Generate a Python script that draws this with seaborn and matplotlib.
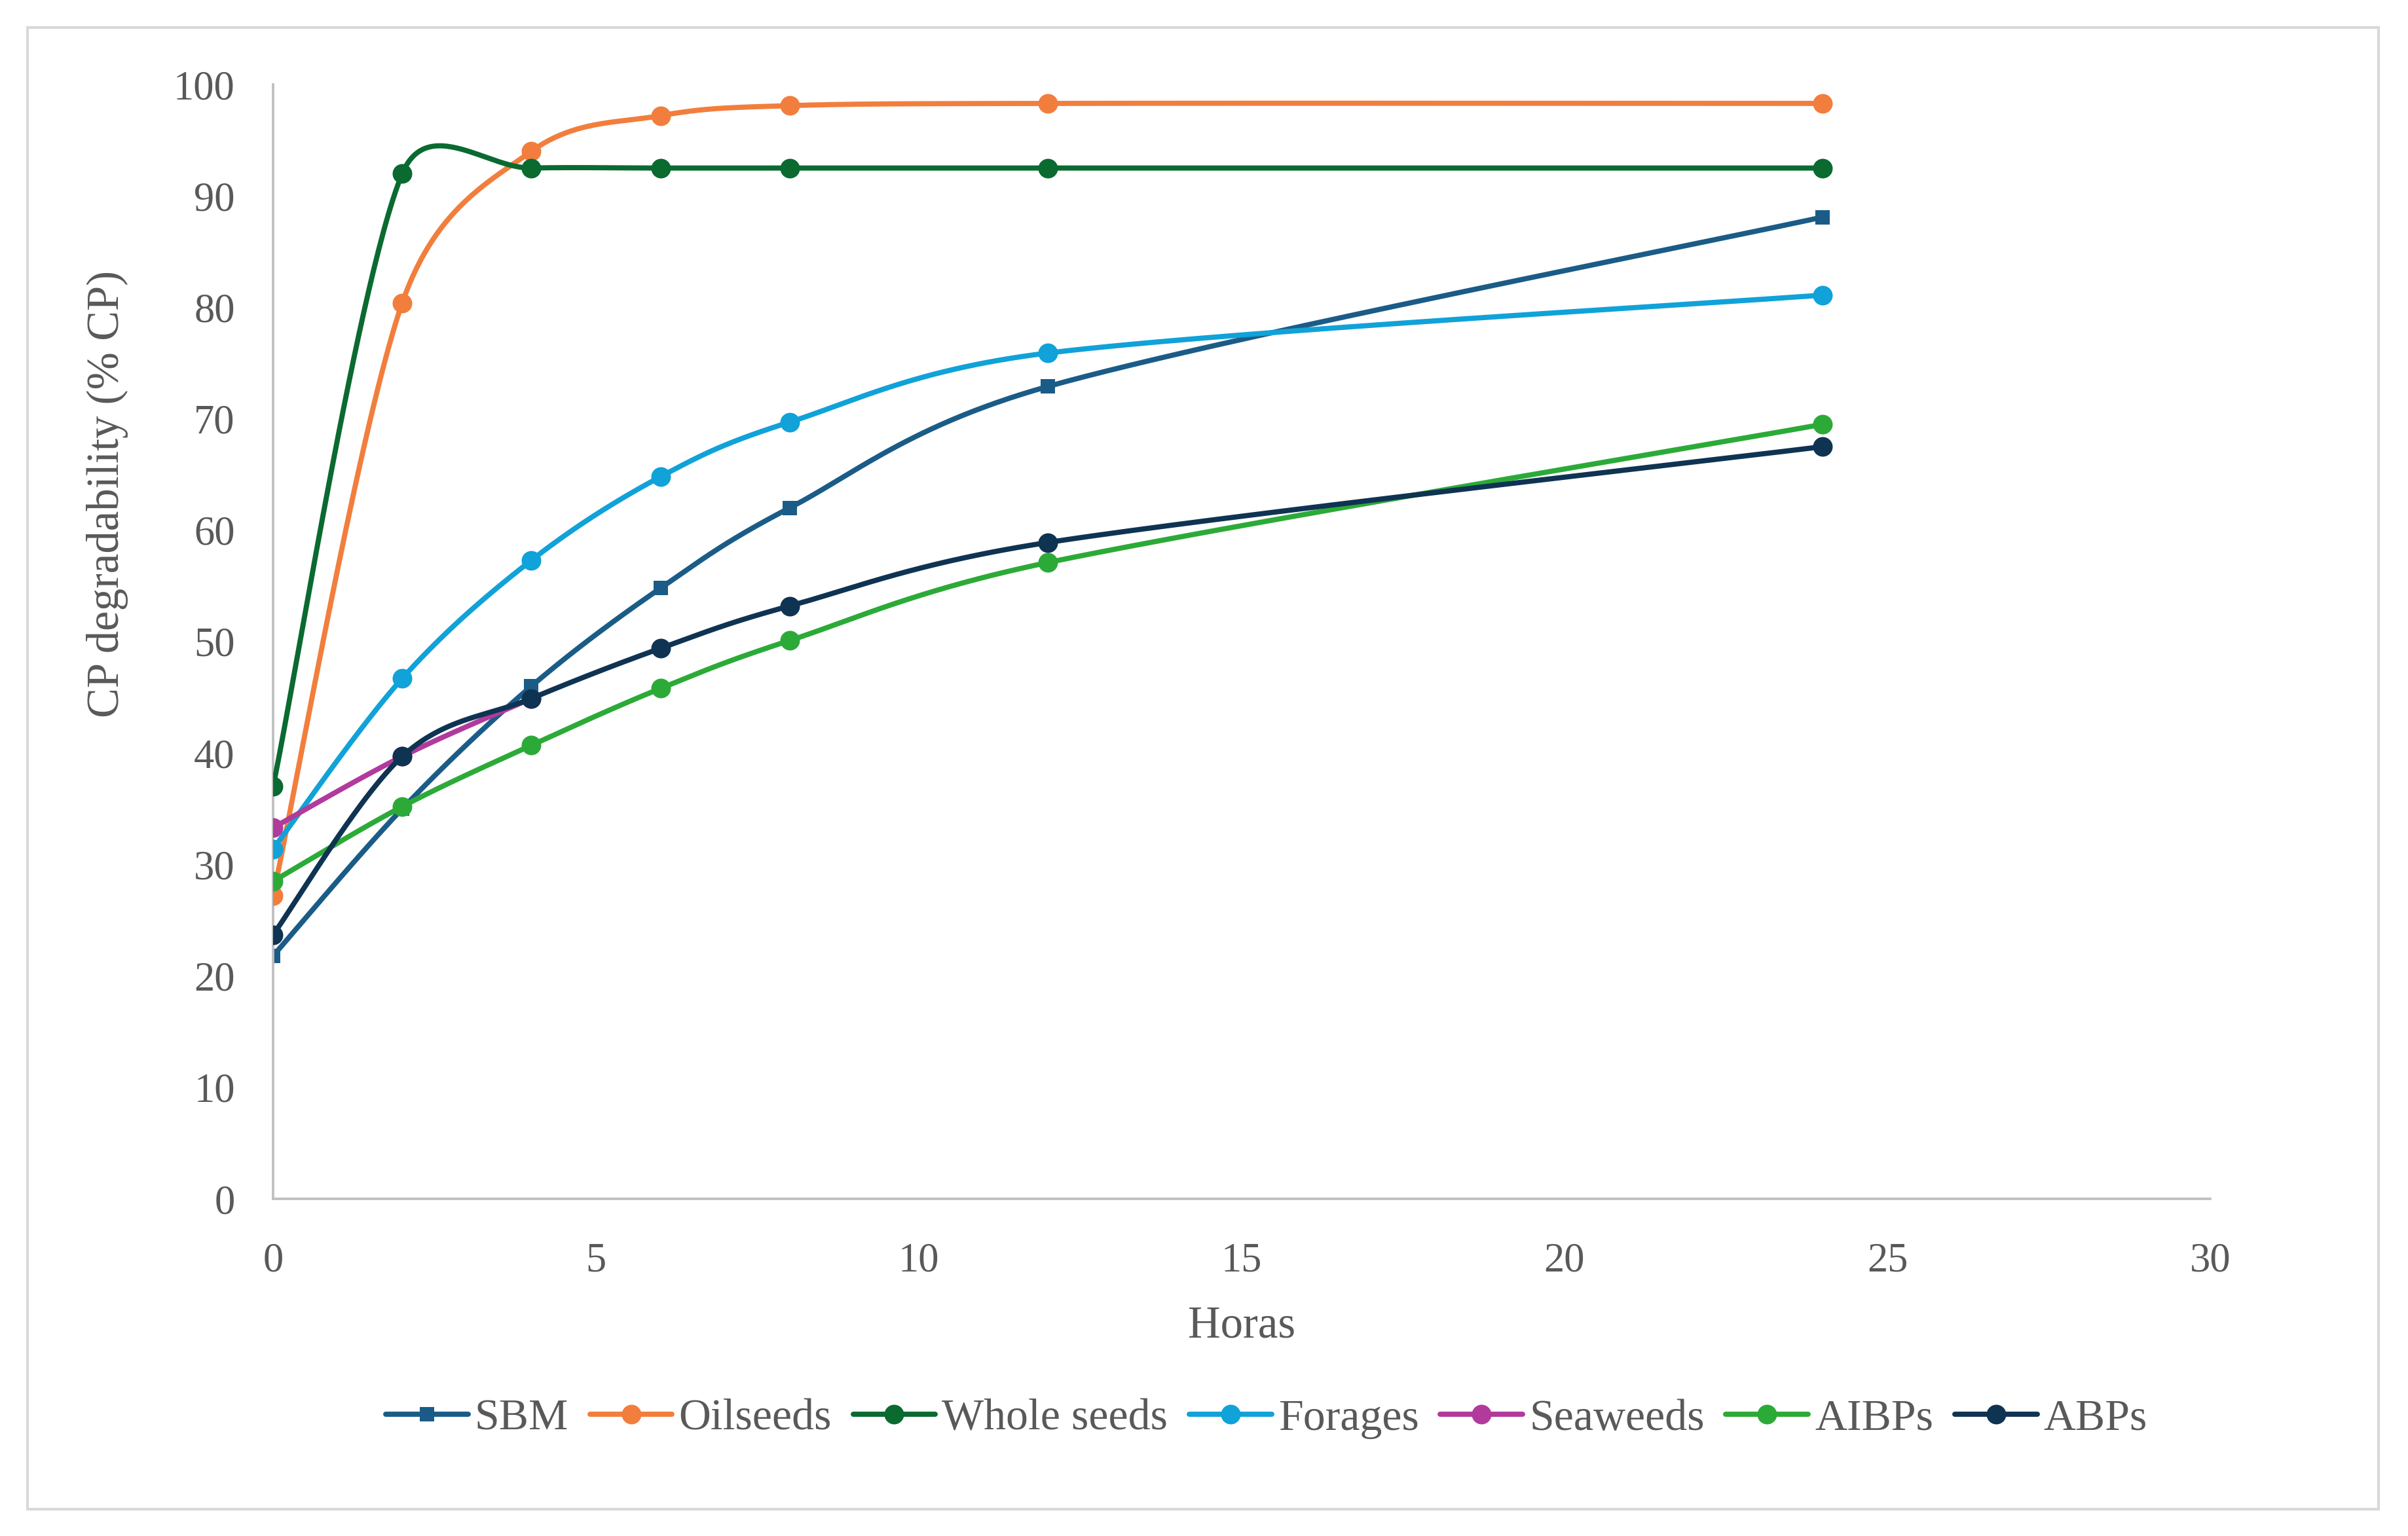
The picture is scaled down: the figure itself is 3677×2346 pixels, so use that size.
import numpy as np
import seaborn as sns
import matplotlib.pyplot as plt
from matplotlib.lines import Line2D
from matplotlib.patches import Rectangle

# data (hours vs CP degradability)
hours = [0, 2, 4, 6, 8, 12, 24]
sbm = [21.8, 35.0, 46.0, 54.8, 62.0, 72.9, 88.1]
oilseeds = [27.2, 80.4, 94.0, 97.2, 98.1, 98.3, 98.3]
whole_seeds = [37.0, 92.0, 92.5, 92.5, 92.5, 92.5, 92.5]
forages = [31.4, 46.7, 57.3, 64.8, 69.7, 75.9, 81.1]
seaweed_hours = [0, 2, 4]
seaweeds = [33.3, 39.7, 44.9]
aibps = [28.5, 35.2, 40.7, 45.8, 50.1, 57.1, 69.5]
abps = [23.7, 39.7, 44.9, 49.4, 53.2, 58.9, 67.5]

names = ["SBM", "Oilseeds", "Whole seeds", "Forages", "Seaweeds", "AIBPs", "ABPs"]
colors = ["#1a5c87", "#f27e3d", "#0a6a30", "#10a2d8", "#b13a9c", "#2caa38", "#0f3352"]
markers = ["s", "o", "o", "o", "o", "o", "o"]
series = [(hours, sbm), (hours, oilseeds), (hours, whole_seeds), (hours, forages),
          (seaweed_hours, seaweeds), (hours, aibps), (hours, abps)]

TXT = "#595959"

sns.set_style("white")
plt.rcParams["font.family"] = ["Liberation Serif", "DejaVu Serif"]

W, H, DPI = 3677, 2346, 300
fig = plt.figure(figsize=(W / DPI, H / DPI), dpi=DPI)
ax = fig.add_axes([417 / W, 1 - 1831 / H, (3375 - 417) / W, (1831 - 129) / H])

# outer border like the Excel chart area
fig.patches.append(Rectangle((42 / W, 1 - 2305 / H), (3632 - 42) / W, (2305 - 42) / H,
                             transform=fig.transFigure, fill=False,
                             edgecolor="#d9d9d9", lw=1.0))

xmax, ymax = 30, 100
sx = (3375 - 417) / xmax   # px per unit, used so smoothing happens in screen space
sy = (1831 - 129) / ymax


def excel_smooth(xs, ys, n=60):
    P = np.column_stack([np.asarray(xs, float) * sx, np.asarray(ys, float) * sy])
    m = len(P)
    pts = [P[0]]
    t = np.linspace(0, 1, n)[1:, None]
    for i in range(m - 1):
        p0 = P[i - 1] if i > 0 else P[i]
        p1, p2 = P[i], P[i + 1]
        p3 = P[i + 2] if i + 2 < m else P[i + 1]
        d02 = np.linalg.norm(p2 - p0)
        d12 = np.linalg.norm(p2 - p1)
        d13 = np.linalg.norm(p3 - p1)
        f1 = 1 / 6 if d02 / 6 < d12 / 2 else (d12 / 2) / d02
        f2 = 1 / 6 if d13 / 6 < d12 / 2 else (d12 / 2) / d13
        b1 = p1 + f1 * (p2 - p0)
        b2 = p2 - f2 * (p3 - p1)
        seg = ((1 - t) ** 3) * p1 + 3 * ((1 - t) ** 2) * t * b1 + 3 * (1 - t) * t ** 2 * b2 + t ** 3 * p2
        pts.extend(seg)
    pts = np.array(pts)
    return pts[:, 0] / sx, pts[:, 1] / sy


handles = []
for i, (name, (xs, ys)) in enumerate(zip(names, series)):
    cx, cy = excel_smooth(xs, ys)
    sns.lineplot(x=cx, y=cy, sort=False, estimator=None, color=colors[i], lw=1.9,
                 ax=ax, zorder=2 + i)
    ms = 5.4 if markers[i] == "s" else 7.2
    ax.plot(xs, ys, ls="none", marker=markers[i], ms=ms, color=colors[i],
            markeredgewidth=0, zorder=2 + i)
    handles.append(Line2D([], [], color=colors[i], lw=1.9, marker=markers[i],
                          ms=ms, markeredgewidth=0))

ax.set_xlim(0, xmax)
ax.set_ylim(0, ymax)
ax.set_xticks(range(0, 31, 5))
ax.set_yticks(range(0, 101, 10))
ax.tick_params(length=0, labelsize=15, colors=TXT)
ax.tick_params(axis="y", pad=14)
ax.tick_params(axis="x", pad=16)
sns.despine(ax=ax)
for s in ["left", "bottom"]:
    ax.spines[s].set_color("#bfbfbf")
    ax.spines[s].set_linewidth(0.9)
ax.patch.set_alpha(0)

ax.set_xlabel("Horas", fontsize=16.5, color=TXT)
ax.xaxis.label.set_verticalalignment("center")
ax.xaxis.set_label_coords(0.5, -(2026 - 1831) / (1831 - 129))
ax.set_ylabel("CP degradability (% CP)", fontsize=16.5, color=TXT)
ax.yaxis.label.set_verticalalignment("center")
ax.yaxis.set_label_coords((164 - 417) / (3375 - 417), (1831 - 754) / (1831 - 129))

leg = fig.legend(handles, names, loc="center", bbox_to_anchor=(1934 / W, 1 - 2167 / H),
                 ncol=7, frameon=False, fontsize=16.3, handlelength=1.85,
                 handletextpad=0.15, columnspacing=0.48, labelcolor=TXT)

fig.savefig("out.png", dpi=DPI, facecolor="white")
